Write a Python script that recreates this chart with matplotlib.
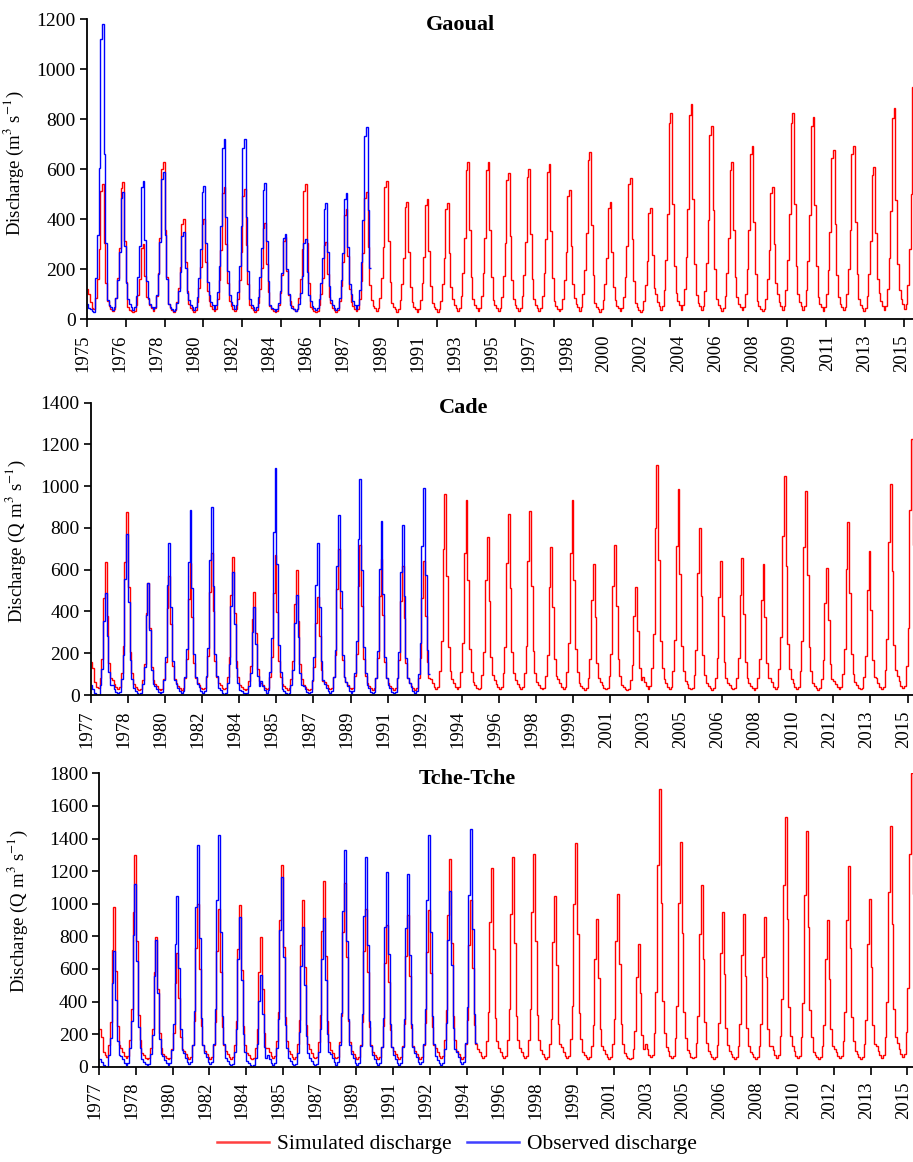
import numpy as np
import matplotlib
matplotlib.use("Agg")
from matplotlib import pyplot as plt
from matplotlib.lines import Line2D
from matplotlib.transforms import ScaledTranslation

plt.rcParams['font.family'] = ['Liberation Serif', 'DejaVu Serif']
plt.rcParams['mathtext.fontset'] = 'stix'

# annual peak discharge (one value per year)
gaoual_start = 1975
gaoual_sim_peaks = [540, 550, 300, 630, 400, 400, 530, 520, 385, 330, 540, 310, 440, 510,
                    555, 470, 480, 465,
                    628, 628, 587, 600, 621, 517, 671, 468, 567, 447, 824, 860, 775, 629,
                    693, 531, 824, 811, 677, 693, 608, 847, 977]
gaoual_obs_peaks = [1180, 510, 555, 590, 350, 535, 720, 720, 545, 340, 320, 465, 505, 770]

cade_start = 1977
cade_sim_peaks = [635, 875, 535, 570, 630, 680, 660, 495, 670, 600, 470, 700, 720, 650, 620, 640,
                  965,
                  934, 758, 867, 883, 710, 934, 626, 717, 516, 1101, 985, 801, 642, 658, 626,
                  1050, 975, 607, 830, 691, 1009, 1226]
cade_obs_peaks = [490, 770, 535, 730, 885, 900, 590, 420, 1085, 480, 730, 860, 1035, 835, 815, 990]

tche_start = 1977
tche_sim_peaks = [980, 1300, 795, 700, 1000, 970, 990, 795, 1235, 1025, 1140, 1130, 970, 870,
                  930, 960, 1275, 1020,
                  1221, 1285, 1305, 1049, 1370, 906, 1059, 751, 1702, 1381, 1115, 951, 935, 920,
                  1530, 1446, 900, 1231, 1027, 1477, 1800]
tche_obs_peaks = [710, 1120, 775, 1045, 1360, 1420, 920, 560, 1165, 860, 915, 1330, 1285, 1195,
                  1180, 1420, 1080, 1460]

# seasonal hydrograph shape (share of the annual peak, Jan..Dec)
gaoual_profile = [0.10, 0.06, 0.04, 0.02, 0.04, 0.12, 0.27, 0.50, 0.95, 1.00, 0.55, 0.24]
south_profile = [0.06, 0.04, 0.02, 0.01, 0.02, 0.10, 0.25, 0.72, 1.00, 0.58, 0.22, 0.10]

# dry season base flow (simulated, observed)
gaoual_low = (22, 28)
cade_low = (20, 0)
tche_low = (40, 0)

# first months of the record (recession from previous year)
gaoual_first = ([120, 100, 70, 45, 40], [60, 45, 40, 35, 30])
cade_first = ([160, 130, 60, 40, 35], [50, 30, 10, 0, 0])
tche_first = ([230, 180, 90, 70, 60], [50, 30, 10, 0, 0])


def monthly(peaks, profile, low, first):
    prof = np.array(profile)
    vals = np.concatenate([low + (p - low) * prof for p in peaks])
    vals[:len(first)] = first
    return vals


panels = [
    dict(title='Gaoual', start=gaoual_start,
         sim=monthly(gaoual_sim_peaks, gaoual_profile, gaoual_low[0], gaoual_first[0]),
         obs=monthly(gaoual_obs_peaks, gaoual_profile, gaoual_low[1], gaoual_first[1]),
         ylabel='Discharge (m$^3$ s$^{-1}$)', ymax=1200, tick_step=23, label_step=22,
         pos=[86.7, 319.3, 300.0, 1.692], title_xy=(0.449, 0.981), ylab_xy=(-0.073, 0.52)),
    dict(title='Cade', start=cade_start,
         sim=monthly(cade_sim_peaks, south_profile, cade_low[0], cade_first[0]),
         obs=monthly(cade_obs_peaks, south_profile, cade_low[1], cade_first[1]),
         ylabel='Discharge (Q m$^3$ s$^{-1}$)', ymax=1400, tick_step=21, label_step=21,
         pos=[90.7, 695.0, 292.3, 1.768], title_xy=(0.451, 0.982), ylab_xy=(-0.076, 0.527)),
    dict(title='Tche-Tche', start=tche_start,
         sim=monthly(tche_sim_peaks, south_profile, tche_low[0], tche_first[0]),
         obs=monthly(tche_obs_peaks, south_profile, tche_low[1], tche_first[1]),
         ylabel='Discharge (Q m$^3$ s$^{-1}$)', ymax=1800, tick_step=21, label_step=21,
         pos=[99.3, 1066.7, 293.3, 1.749], title_xy=(0.45, 0.981), ylab_xy=(-0.085, 0.53)),
]

W, H = 913, 1162
fig = plt.figure(figsize=(W / 100, H / 100), dpi=100)
shift = ScaledTranslation(-0.04, 0, fig.dpi_scale_trans)

for p in panels:
    left, bottom, height, ppm = p['pos']
    n = len(p['sim'])
    ax = fig.add_axes([left / W, 1 - bottom / H, n * ppm / W, height / H])
    ax.stairs(p['sim'], np.arange(n + 1), baseline=None, color='#ff0000', lw=1.0)
    ax.stairs(p['obs'], np.arange(len(p['obs']) + 1), baseline=None, color='#0000ff', lw=1.0)
    ax.set_xlim(0, n)
    ax.set_ylim(0, p['ymax'])
    ax.set_yticks(np.arange(0, p['ymax'] + 1, 200))
    for s in ['top', 'right']:
        ax.spines[s].set_visible(False)
    for s in ['left', 'bottom']:
        ax.spines[s].set_linewidth(1.3)
    ax.tick_params(axis='y', labelsize=14, length=5, width=1.2, pad=3)
    ax.xaxis.remove_overlapping_locs = False
    lab_pos = np.arange(0, n, p['label_step'])
    years = [str(p['start'] + m // 12) for m in lab_pos]
    # ticks and labels sit on separate intervals, so labels go on the minor ticks
    ax.set_xticks(np.arange(0, n, p['tick_step']))
    ax.set_xticklabels([])
    ax.set_xticks(lab_pos, minor=True)
    ax.set_xticklabels(years, minor=True, rotation=90)
    ax.tick_params(axis='x', which='major', length=6, width=1.2)
    ax.tick_params(axis='x', which='minor', labelsize=13.5, length=0, pad=11)
    for lab in ax.get_xticklabels(minor=True):
        lab.set_transform(lab.get_transform() + shift)
    ax.set_ylabel(p['ylabel'], fontsize=13.5)
    ax.yaxis.set_label_coords(*p['ylab_xy'])
    ax.text(p['title_xy'][0], p['title_xy'][1], p['title'], transform=ax.transAxes,
            ha='center', va='center', fontsize=16, fontweight='bold')

handles = [Line2D([], [], color='#ff4040', lw=1.8),
           Line2D([], [], color='#4040ff', lw=1.8)]
fig.legend(handles, ['Simulated discharge', 'Observed discharge'], loc='center',
           bbox_to_anchor=(457 / W, 1 - 1144 / H), ncol=2, frameon=False, fontsize=15.5,
           handlelength=2.4, handletextpad=0.4, columnspacing=0.7)

fig.savefig('out.png', dpi=100)
